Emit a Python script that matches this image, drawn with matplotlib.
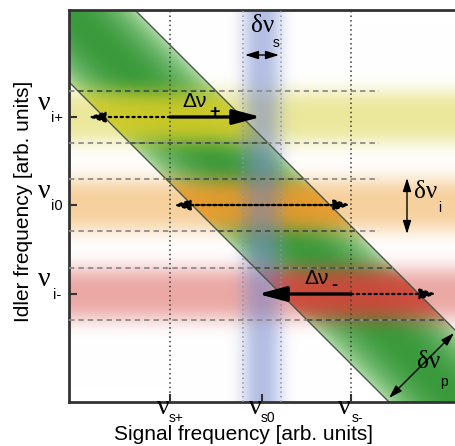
"""Signal/idler frequency map: pump band, filter bands and the shifts between them."""

import matplotlib
matplotlib.use("Agg")
import matplotlib.pyplot as plt
import numpy as np
from matplotlib.colors import to_rgb

# ---- values (arbitrary units) ----
signal_names = ["s+", "s0", "s-"]
signal_freqs = [101, 193, 282]
idler_names = ["i+", "i0", "i-"]
idler_freqs = [285, 197, 108]
idler_colors = ["#d4cc26", "#ec9a2a", "#d4443a"]
signal_color = "#6a80c8"
signal_width = 38        # blue vertical band
idler_width = 52         # horizontal bands
pump_sum = 389           # pump band centre: nu_s + nu_i
pump_width = 138         # pump band width measured in nu_s + nu_i
x_max, y_max = 387, 392

# arrows along the idler rows
plus_arrow = (101, 192)        # delta nu_+ on row i+
minus_arrow = (282, 189)       # delta nu_- on row i-
plus_dotted_tip = 19
minus_dotted_tip = 368
mid_dotted = (104, 282)

SERIF = "Liberation Serif"
SANS = "Liberation Sans"


def blend(img, color, alpha):
    c = np.array(to_rgb(color))
    a = alpha[..., None]
    return img * (1 - a) + c * a


def build_background():
    xs = np.arange(x_max) + 0.5
    ys = np.arange(y_max) + 0.5
    X, Y = np.meshgrid(xs, ys)
    img = np.ones((y_max, x_max, 3))

    # pump band (green), darker along its centre line
    d = X + Y - pump_sum
    u = d / (pump_width / 2)
    inside = np.clip((pump_width / 2 - np.abs(d)) / 1.4 + 0.5, 0, 1)
    shade = np.clip(1 - u ** 2, 0, 1) ** 0.8
    dark = np.array(to_rgb("#3a9a3c"))
    light = np.array(to_rgb("#b2dcaa"))
    green = light + (dark - light) * shade[..., None]
    img = img * (1 - inside[..., None]) + green * inside[..., None]

    # idler filter bands, stronger where they meet the pump
    for f, col in zip(idler_freqs, idler_colors):
        p = np.exp(-np.abs((Y - f) / (idler_width / 2 + 2)) ** 3)
        alpha = p * (0.46 + 0.46 * inside)
        img = blend(img, col, alpha)

    # signal filter band (blue)
    q = np.exp(-np.abs((X - signal_freqs[1]) / (signal_width / 2 + 1)) ** 2.5)
    img = blend(img, signal_color, q * 0.5)
    return img


def main():
    fig = plt.figure(figsize=(4.56, 4.46), dpi=100)
    ax = fig.add_axes([69 / 456, 44 / 446, 387 / 456, 392 / 446])
    ax.imshow(build_background(), extent=(0, x_max, 0, y_max), origin="lower",
              aspect="auto", interpolation="bilinear", zorder=0)
    ax.set_xlim(0, x_max)
    ax.set_ylim(0, y_max)

    # pump band edges
    xl = np.array([0, x_max])
    for off in (-pump_width / 2, pump_width / 2):
        ax.plot(xl, pump_sum + off - xl, color="#46584a", lw=1.0, zorder=2)

    # dashed edges of idler bands
    s_minus = signal_freqs[2]
    for f in idler_freqs:
        for y in (f + idler_width / 2, f - idler_width / 2):
            end = max(s_minus + 28, pump_sum + pump_width / 2 - y)
            ax.plot([0, end], [y, y], color="#8c8c8c", lw=1.3,
                    ls=(0, (3, 2.2)), zorder=3)
            g0 = max(0, pump_sum - pump_width / 2 - y)
            g1 = min(end, pump_sum + pump_width / 2 - y)
            if g1 > g0:
                ax.plot([g0, g1], [y, y], color="#40583a", lw=1.3,
                        ls=(0, (3, 2.2)), zorder=3)

    # dotted vertical lines
    for f in (signal_freqs[0], signal_freqs[2]):
        ax.plot([f, f], [0, y_max], color="#3c3c3c", lw=1.1, ls=(0, (1, 2)), zorder=3)
    for f in (signal_freqs[1] - signal_width / 2, signal_freqs[1] + signal_width / 2):
        ax.plot([f, f], [0, y_max], color="#8a94a8", lw=1.1, ls=(0, (1, 2)), zorder=3)

    i_plus, i_zero, i_minus = idler_freqs

    def arrow(x0, y0, x1, y1, style, lw, ls="-", scale=10):
        ax.annotate("", xy=(x1, y1), xytext=(x0, y0),
                    arrowprops=dict(arrowstyle=style, lw=lw, color="black", ls=ls,
                                    shrinkA=0, shrinkB=0, mutation_scale=scale),
                    zorder=5)

    small = "-|>,head_length=1.0,head_width=0.32"
    big = "-|>,head_length=1.7,head_width=0.45"
    # row i+
    arrow(signal_freqs[0], i_plus, plus_dotted_tip, i_plus, small, 1.6, ":")
    arrow(plus_arrow[0], i_plus, plus_arrow[1], i_plus, big, 2.4)
    # row i0
    arrow(mid_dotted[0] + 12, i_zero, mid_dotted[1], i_zero, small, 1.6, ":")
    arrow(mid_dotted[1] - 12, i_zero, mid_dotted[0], i_zero, small, 1.6, ":")
    # row i-
    arrow(signal_freqs[2], i_minus, minus_dotted_tip, i_minus, small, 1.6, ":")
    arrow(minus_arrow[0], i_minus, minus_arrow[1], i_minus, big, 2.4)

    two = "<|-|>,head_length=0.8,head_width=0.25"
    s0 = signal_freqs[1]
    arrow(s0 - signal_width / 2 + 2, 347, s0 + signal_width / 2 - 2, 347, two, 1.0)
    arrow(338, i_zero + idler_width / 2 + 1, 338, i_zero - idler_width / 2 - 3, two, 1.0)
    # across the pump band
    px = 385
    hw = pump_width / 2 - 4
    arrow(px, pump_sum + hw - px, px - hw, pump_sum - px, two, 1.0)

    # labels inside the plot
    def label(x, y, big_txt, sx, sy, sub, size=18, subsize=10, bigfam=SERIF):
        ax.text(x, y, big_txt, family=bigfam, size=size, ha="center", va="center",
                clip_on=False, zorder=6)
        ax.text(sx, sy, sub, family=SANS, size=subsize, ha="center", va="center",
                clip_on=False, zorder=6, fontweight="bold" if sub in "+-" else "normal")

    label(126, 301, "Δν", 146, 290, "+", size=15, subsize=13, bigfam=SANS)
    label(248, 124, "Δν", 265, 117, "-", size=15, subsize=13, bigfam=SANS)
    label(194, 376, "δν", 207, 359, "s")
    label(357, 210, "δν", 371, 194, "i")
    label(360, 40, "δν", 375, 20, "p")

    # tick labels
    for f, name in zip(signal_freqs, signal_names):
        label(f - 7, -6, "ν", f + 6, -16, name, size=20, subsize=10)
    for f, name in zip(idler_freqs, idler_names):
        label(-25, f + 14, "ν", -12, f - 1, name, size=20, subsize=10.5)

    ax.set_xticks(signal_freqs, labels=[""] * 3)
    ax.set_yticks(idler_freqs, labels=[""] * 3)
    ax.tick_params(direction="in", length=6, width=1.5, color="#333333")
    for side in ("left", "top", "bottom"):
        ax.spines[side].set_linewidth(2)
        ax.spines[side].set_color("#333333")
    ax.spines["right"].set_visible(False)

    ax.set_xlabel("Signal frequency [arb. units]", family=SANS, fontsize=15)
    ax.xaxis.set_label_coords(0.452, -0.058)
    ax.set_ylabel("Idler frequency [arb. units]", family=SANS, fontsize=15)
    ax.yaxis.set_label_coords(-0.092, 0.513)

    fig.savefig("out.png", dpi=100)
    plt.close(fig)


if __name__ == "__main__":
    main()
